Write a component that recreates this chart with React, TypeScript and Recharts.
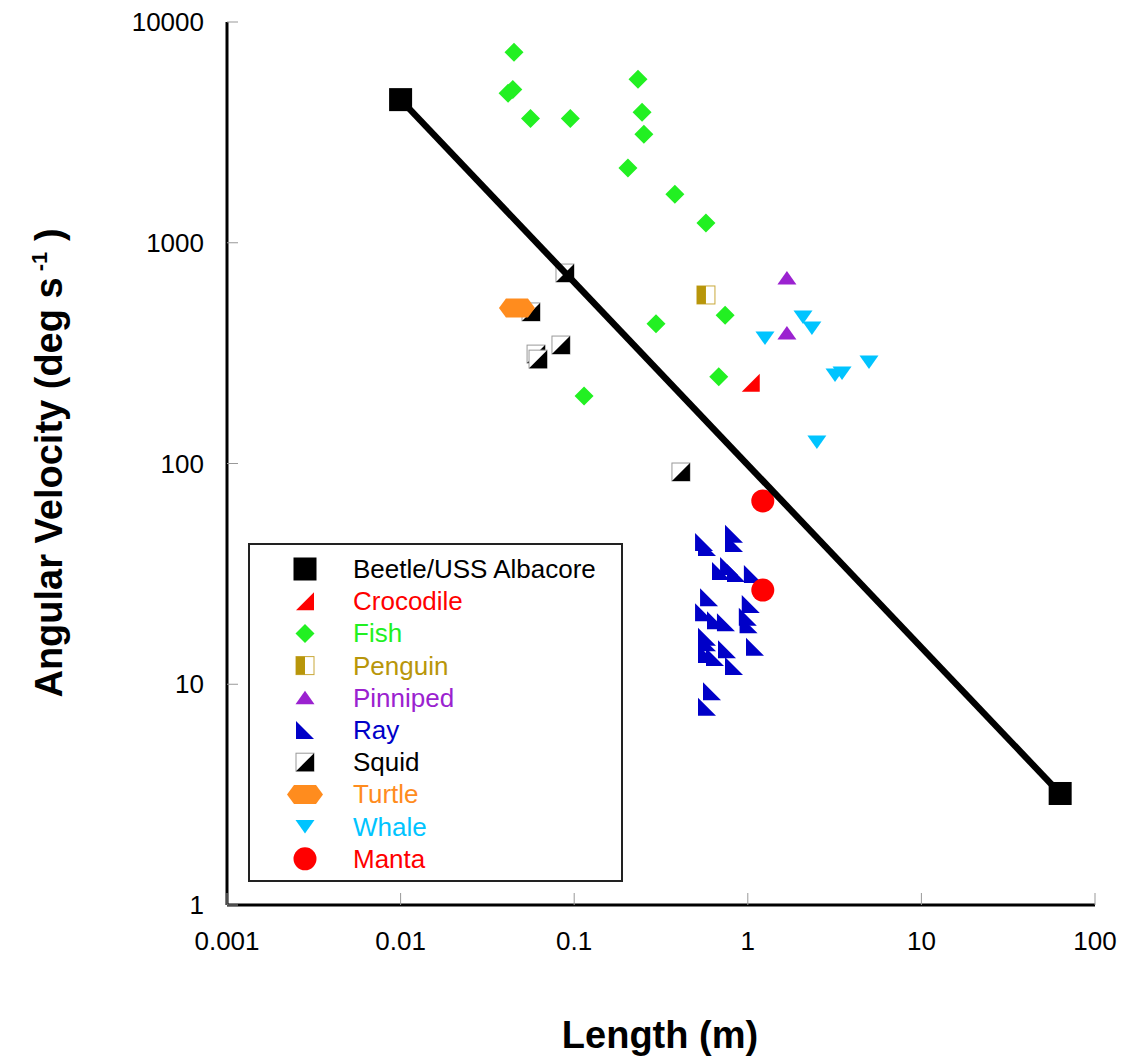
import { ScatterChart, Scatter, XAxis, YAxis, Legend } from "recharts";

// axis ticks
const lengthTicks = [0.001, 0.01, 0.1, 1, 10, 100];
const velocityTicks = [1, 10, 100, 1000, 10000];

// length (m), angular velocity (deg/s)
const beetle = [
  { len: 0.01, vel: 4450 },
  { len: 63, vel: 3.2 },
];
const crocodile = [{ len: 1.04, vel: 232 }];
const fish = [
  { len: 0.045, vel: 7300 },
  { len: 0.0416, vel: 4750 },
  { len: 0.0443, vel: 4950 },
  { len: 0.056, vel: 3650 },
  { len: 0.095, vel: 3650 },
  { len: 0.233, vel: 5500 },
  { len: 0.246, vel: 3900 },
  { len: 0.252, vel: 3100 },
  { len: 0.204, vel: 2180 },
  { len: 0.38, vel: 1660 },
  { len: 0.574, vel: 1230 },
  { len: 0.296, vel: 430 },
  { len: 0.74, vel: 470 },
  { len: 0.68, vel: 247 },
  { len: 0.114, vel: 202 },
];
const penguin = [{ len: 0.574, vel: 580 }];
const pinniped = [
  { len: 1.68, vel: 692 },
  { len: 1.68, vel: 390 },
];
const ray = [
  { len: 0.833, vel: 48 },
  { len: 0.833, vel: 43.6 },
  { len: 0.56, vel: 44.1 },
  { len: 0.582, vel: 41.9 },
  { len: 0.701, vel: 32.6 },
  { len: 0.78, vel: 34.3 },
  { len: 0.855, vel: 31.9 },
  { len: 1.07, vel: 31.6 },
  { len: 0.598, vel: 24.8 },
  { len: 1.04, vel: 23.1 },
  { len: 0.56, vel: 21.2 },
  { len: 0.656, vel: 19.5 },
  { len: 0.748, vel: 19.1 },
  { len: 1.0, vel: 20.2 },
  { len: 1.01, vel: 18.7 },
  { len: 0.582, vel: 16.4 },
  { len: 0.582, vel: 15.5 },
  { len: 0.582, vel: 13.7 },
  { len: 0.647, vel: 13.3 },
  { len: 0.759, vel: 14.4 },
  { len: 0.833, vel: 12.1 },
  { len: 1.1, vel: 14.8 },
  { len: 0.622, vel: 9.3 },
  { len: 0.582, vel: 7.9 },
];
const squid = [
  { len: 0.0885, vel: 729 },
  { len: 0.0564, vel: 486 },
  { len: 0.0839, vel: 344 },
  { len: 0.0603, vel: 313 },
  { len: 0.0619, vel: 297 },
  { len: 0.412, vel: 91.5 },
];
const turtle = [{ len: 0.0468, vel: 506 }];
const whale = [
  { len: 1.256, vel: 370 },
  { len: 2.08, vel: 461 },
  { len: 2.34, vel: 411 },
  { len: 3.18, vel: 252 },
  { len: 3.49, vel: 257 },
  { len: 4.99, vel: 288 },
  { len: 2.5, vel: 125 },
];
const manta = [
  { len: 1.22, vel: 67.7 },
  { len: 1.22, vel: 26.7 },
];

const FONT = "'Liberation Sans', Arial, Helvetica, sans-serif";

const colors = {
  beetle: "#000000",
  crocodile: "#ff0000",
  fish: "#22f022",
  penguin: "#b8960a",
  pinniped: "#9b22d0",
  ray: "#0000c8",
  squid: "#000000",
  turtle: "#ff8c1e",
  whale: "#00c4ff",
  manta: "#ff0000",
};

// marker shapes
const squareShape = ({ cx, cy }: any) => (
  <rect x={cx - 11.5} y={cy - 11.5} width={23} height={23} fill={colors.beetle} />
);
const crocShape = ({ cx, cy }: any) => (
  <polygon
    points={`${cx + 9},${cy - 9} ${cx + 9},${cy + 9} ${cx - 9},${cy + 9}`}
    fill={colors.crocodile}
  />
);
const diamondShape = ({ cx, cy }: any) => (
  <polygon
    points={`${cx},${cy - 9.5} ${cx + 9.5},${cy} ${cx},${cy + 9.5} ${cx - 9.5},${cy}`}
    fill={colors.fish}
  />
);
const penguinShape = ({ cx, cy }: any) => (
  <g>
    <rect x={cx - 9} y={cy - 9} width={18} height={18} fill="#fff" stroke="#c9a83a" strokeWidth={1} />
    <rect x={cx - 9} y={cy - 9} width={9} height={18} fill={colors.penguin} />
  </g>
);
const upTriShape = ({ cx, cy }: any) => (
  <polygon
    points={`${cx},${cy - 7} ${cx + 9.5},${cy + 6.5} ${cx - 9.5},${cy + 6.5}`}
    fill={colors.pinniped}
  />
);
const rayShape = ({ cx, cy }: any) => (
  <polygon
    points={`${cx - 9},${cy - 9} ${cx - 9},${cy + 9} ${cx + 9},${cy + 9}`}
    fill={colors.ray}
  />
);
const squidShape = ({ cx, cy }: any) => (
  <g>
    <rect x={cx - 9} y={cy - 9} width={18} height={18} fill="#fff" stroke="#999" strokeWidth={1} />
    <polygon points={`${cx + 9},${cy - 9} ${cx + 9},${cy + 9} ${cx - 9},${cy + 9}`} fill="#000" />
  </g>
);
const hexShape = ({ cx, cy }: any) => (
  <polygon
    points={`${cx - 18},${cy} ${cx - 11},${cy - 9.5} ${cx + 11},${cy - 9.5} ${cx + 18},${cy} ${cx + 11},${cy + 9.5} ${cx - 11},${cy + 9.5}`}
    fill={colors.turtle}
  />
);
const downTriShape = ({ cx, cy }: any) => (
  <polygon
    points={`${cx - 9.5},${cy - 6.5} ${cx + 9.5},${cy - 6.5} ${cx},${cy + 7}`}
    fill={colors.whale}
  />
);
const circleShape = ({ cx, cy }: any) => (
  <circle cx={cx} cy={cy} r={11.5} fill={colors.manta} />
);

const legendItems = [
  { name: "Beetle/USS Albacore", color: colors.beetle, shape: squareShape },
  { name: "Crocodile", color: colors.crocodile, shape: crocShape },
  { name: "Fish", color: colors.fish, shape: diamondShape },
  { name: "Penguin", color: colors.penguin, shape: penguinShape },
  { name: "Pinniped", color: colors.pinniped, shape: upTriShape },
  { name: "Ray", color: colors.ray, shape: rayShape },
  { name: "Squid", color: colors.squid, shape: squidShape },
  { name: "Turtle", color: colors.turtle, shape: hexShape },
  { name: "Whale", color: colors.whale, shape: downTriShape },
  { name: "Manta", color: colors.manta, shape: circleShape },
];

const YTick = ({ x, y, payload }: any) => (
  <g>
    <line x1={x} y1={y} x2={x + 11} y2={y} stroke="#999" strokeWidth={1} />
    <text x={x - 23} y={y + 9} textAnchor="end" fontSize={26} fill="#000" fontFamily={FONT}>
      {payload.value}
    </text>
  </g>
);

const XTick = ({ x, y, payload }: any) => (
  <g>
    <line x1={x} y1={y} x2={x} y2={y - 12} stroke="#999" strokeWidth={1} />
    <text x={x} y={y + 45} textAnchor="middle" fontSize={26} fill="#000" fontFamily={FONT}>
      {payload.value}
    </text>
  </g>
);

const yLabel = () => (
  <text
    x={62}
    y={463}
    transform="rotate(-90 62 463)"
    textAnchor="middle"
    fontSize={38}
    fontWeight="bold"
    fill="#000"
    fontFamily={FONT}
  >
    Angular Velocity (deg s
    <tspan dy={-15} fontSize={22}>
      {" -1"}
    </tspan>
    <tspan dy={15}>{" )"}</tspan>
  </text>
);

const xLabel = () => (
  <text x={660} y={1048} textAnchor="middle" fontSize={38} fontWeight="bold" fill="#000" fontFamily={FONT}>
    Length (m)
  </text>
);

const LegendBox = () => (
  <svg width={375} height={339} style={{ display: "block" }}>
    <rect x={1} y={1} width={373} height={337} fill="#fff" stroke="#222" strokeWidth={2} />
    {legendItems.map((item, i) => {
      const cy = 26 + i * 32.2;
      return (
        <g key={item.name}>
          {item.shape({ cx: 57, cy })}
          <text x={105} y={cy + 9} fontSize={26} fill={item.color} fontFamily={FONT}>
            {item.name}
          </text>
        </g>
      );
    })}
  </svg>
);

export default function App() {
  return (
    <div style={{ fontFamily: FONT, width: 1123, height: 1059 }}>
      {/* drop the default body margin so the chart fills the page exactly */}
      <style>{"html, body { margin: 0; padding: 0; overflow: hidden; }"}</style>
      <ScatterChart width={1123} height={1059} margin={{ top: 22, right: 28, bottom: 94, left: 127 }}>
        <XAxis
          dataKey="len"
          type="number"
          scale="log"
          domain={[0.001, 100]}
          ticks={lengthTicks}
          interval={0}
          allowDataOverflow
          height={60}
          tickSize={0}
          tickMargin={0}
          tickLine={false}
          axisLine={{ stroke: "#000", strokeWidth: 3 }}
          tick={<XTick />}
          label={xLabel}
        />
        <YAxis
          dataKey="vel"
          type="number"
          scale="log"
          domain={[1, 10000]}
          ticks={velocityTicks}
          interval={0}
          allowDataOverflow
          width={100}
          tickSize={0}
          tickMargin={0}
          tickLine={false}
          axisLine={{ stroke: "#000", strokeWidth: 3 }}
          tick={<YTick />}
          label={yLabel}
        />
        <Legend
          layout="vertical"
          align="center"
          verticalAlign="middle"
          wrapperStyle={{ left: 248, top: 543, width: 375, height: 339 }}
          content={() => <LegendBox />}
        />
        <Scatter name="Crocodile" data={crocodile} shape={crocShape} isAnimationActive={false} />
        <Scatter name="Fish" data={fish} shape={diamondShape} isAnimationActive={false} />
        <Scatter name="Penguin" data={penguin} shape={penguinShape} isAnimationActive={false} />
        <Scatter name="Pinniped" data={pinniped} shape={upTriShape} isAnimationActive={false} />
        <Scatter name="Ray" data={ray} shape={rayShape} isAnimationActive={false} />
        <Scatter name="Squid" data={squid} shape={squidShape} isAnimationActive={false} />
        <Scatter name="Turtle" data={turtle} shape={hexShape} isAnimationActive={false} />
        <Scatter name="Whale" data={whale} shape={downTriShape} isAnimationActive={false} />
        <Scatter name="Manta" data={manta} shape={circleShape} isAnimationActive={false} />
        <Scatter
          name="Beetle/USS Albacore"
          data={beetle}
          shape={squareShape}
          line={{ stroke: "#000", strokeWidth: 6.5 }}
          lineJointType="linear"
          isAnimationActive={false}
        />
      </ScatterChart>
    </div>
  );
}
